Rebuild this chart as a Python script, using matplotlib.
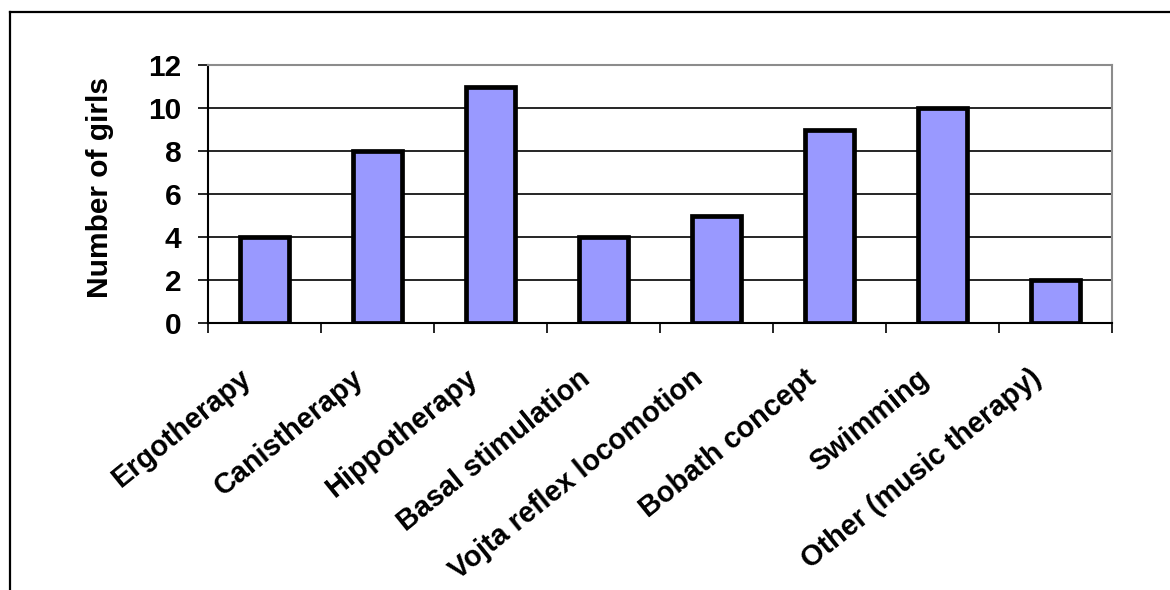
import matplotlib
matplotlib.use("Agg")
import matplotlib.pyplot as plt
from matplotlib.lines import Line2D
import numpy as np

categories = ["Ergotherapy", "Canistherapy", "Hippotherapy", "Basal stimulation",
              "Vojta reflex locomotion", "Bobath concept", "Swimming", "Other (music therapy)"]
values = [4, 8, 11, 4, 5, 9, 10, 2]
y_ticks = [0, 2, 4, 6, 8, 10, 12]
y_label = "Number of girls"

W, H = 1170, 590
plt.rcParams['font.family'] = ['Liberation Sans', 'DejaVu Sans']
plt.rcParams['font.weight'] = 'bold'
FS = 21.5
FSX = 20.8

fig = plt.figure(figsize=(W / 100, H / 100), dpi=100)
ax = fig.add_axes([208 / W, 1 - 323 / H, (1112 - 208) / W, (323 - 65) / H])

x = np.arange(len(categories))
ax.bar(x, values, width=0.44, color="#9999FF", edgecolor="black", linewidth=3.4, zorder=3)

ax.set_xlim(-0.5, len(categories) - 0.5)
ax.set_ylim(0, 12)
ax.set_yticks(y_ticks)
ax.set_yticklabels([str(t) for t in y_ticks], fontsize=FS, fontweight='bold')
ax.yaxis.grid(True, color="black", linewidth=1.2, zorder=0)
ax.set_axisbelow(True)
ax.tick_params(axis='y', direction='out', length=7, width=1.2, pad=12)

ax.set_xticks(np.arange(len(categories) + 1) - 0.5)
ax.set_xticklabels([])
ax.tick_params(axis='x', direction='out', length=7, width=1.2)

for s in ["top", "right"]:
    ax.spines[s].set_color("#8c8c8c")
    ax.spines[s].set_linewidth(1.5)
for s in ["left", "bottom"]:
    ax.spines[s].set_color("black")
    ax.spines[s].set_linewidth(1.5)

# rotated category labels
for i, lab in enumerate(categories):
    ax.annotate(lab, xy=(i, 0), xycoords='data', xytext=(-17, -52), textcoords='offset pixels',
                rotation=39, rotation_mode='anchor', ha='right', va='center',
                fontsize=FSX, fontweight='bold')

fig.text(100 / W, 1 - 188 / H, y_label, rotation=90, ha='center', va='center',
         fontsize=FS, fontweight='bold')

# outer chart border (partially visible)
fig.add_artist(Line2D([9.5 / W, 1.0], [1 - 11.5 / H, 1 - 11.5 / H], transform=fig.transFigure,
                      color="black", linewidth=1.6))
fig.add_artist(Line2D([9.5 / W, 9.5 / W], [0, 1 - 11.5 / H], transform=fig.transFigure,
                      color="black", linewidth=1.6))

fig.savefig("out.png", dpi=100)
